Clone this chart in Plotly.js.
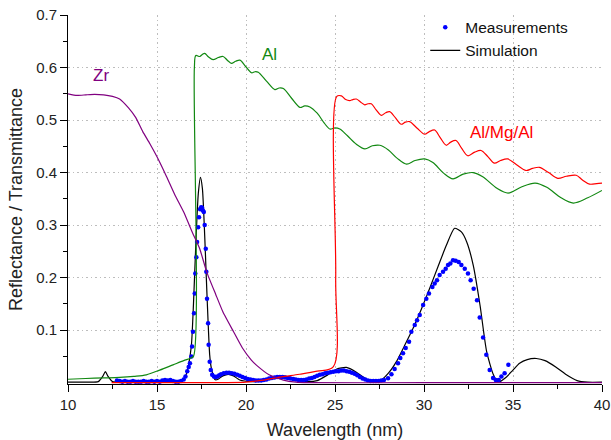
<!DOCTYPE html>
<html>
<head>
<meta charset="utf-8">
<script src="https://cdn.plot.ly/plotly-3.0.1.min.js"></script>
<style>html,body{margin:0;padding:0;background:#fff;}#chart{width:611px;height:440px;}</style>
</head>
<body>
<div id="chart"></div>
<script>
// Zr curve
const zrX = [10,10.5,11,11.5,12,12.5,12.9,13.4,13.8,14.2,14.6,15,15.5,16,16.5,17,17.4,17.8,18.3,18.7,19.3,19.8,20.3,20.6,21.3,22.1,22.8,23.5,30,40];
const zrY = [0.55,0.547,0.548,0.549,0.548,0.545,0.54,0.523,0.505,0.478,0.455,0.43,0.395,0.358,0.325,0.285,0.255,0.21,0.168,0.135,0.097,0.066,0.043,0.033,0.015,0.005,0.001,0,0,0];

// Al curve
const alX = [10,11,12,12.9,13.7,14.4,15.15,15.9,16.5,16.9,17.05,17.1,17.18,17.4,17.55,17.68,17.9,18.15,18.45,18.71,18.95,19.18,19.42,19.66,19.98,20.31,20.5,20.69,21.15,21.62,21.86,22.1,22.55,23.03,23.3,23.59,24.0,24.4,24.71,25.0,25.27,25.7,26.2,26.68,27.1,27.52,28.0,28.5,29.02,29.5,30.04,30.5,31.1,31.63,32.2,32.76,33.3,34.1,34.73,35.5,36.24,36.9,37.7,38.39,39.2,40];
const alY = [0.0065,0.008,0.009,0.01,0.012,0.015,0.024,0.034,0.042,0.047,0.05,0.6,0.623,0.621,0.625,0.627,0.62,0.615,0.619,0.621,0.614,0.608,0.612,0.614,0.602,0.59,0.592,0.591,0.574,0.558,0.561,0.56,0.542,0.524,0.527,0.525,0.513,0.494,0.483,0.485,0.483,0.47,0.454,0.445,0.451,0.452,0.443,0.427,0.416,0.423,0.426,0.419,0.399,0.388,0.397,0.40,0.392,0.37,0.361,0.373,0.38,0.372,0.352,0.342,0.352,0.366];

// Al/Mg/Al curve
const almgX = [12.45,15,20,20.5,21,22,23,24,24.9,25.04,25.1,25.36,25.6,25.83,26.0,26.2,26.45,26.67,26.85,27.04,27.3,27.6,27.85,28.07,28.4,28.72,28.95,29.19,29.6,30.04,30.3,30.6,30.9,31.25,31.5,31.8,32.1,32.46,32.85,33.21,33.6,33.96,34.3,34.7,35.2,35.73,36.1,36.48,37.0,37.51,38.0,38.55,38.9,39.3,39.7,40];
const almgY = [0,0,0.001,0.003,0.005,0.011,0.016,0.022,0.03,0.2,0.545,0.546,0.539,0.537,0.539,0.54,0.534,0.529,0.531,0.531,0.52,0.509,0.514,0.516,0.504,0.492,0.496,0.497,0.485,0.473,0.478,0.481,0.467,0.452,0.458,0.461,0.447,0.432,0.439,0.442,0.43,0.418,0.423,0.426,0.415,0.404,0.408,0.41,0.4,0.389,0.393,0.395,0.386,0.378,0.379,0.38];

// Simulation
const simX = [10,11,11.7,11.95,12.1,12.25,12.5,13,15,16,16.4,16.6,16.75,16.93,17.05,17.2,17.32,17.44,17.55,17.68,17.77,17.87,17.96,18.05,18.15,18.25,18.4,18.7,19.0,19.3,19.65,20.3,21,21.5,21.9,22.4,23,23.5,24,24.6,25.1,25.64,26.2,26.8,27.2,27.52,28,28.45,28.9,29.38,29.85,30.31,30.8,31.25,31.72,32.1,32.4,32.77,33.15,33.52,33.9,34.16,34.6,35.0,35.37,35.8,36.31,36.8,37.4,38,38.6,39.2,40];
const simY = [0.001,0.001,0.002,0.012,0.021,0.012,0.002,0.001,0.001,0.002,0.005,0.012,0.03,0.07,0.15,0.28,0.36,0.391,0.37,0.28,0.2,0.116,0.053,0.028,0.015,0.006,0.006,0.013,0.016,0.013,0.005,0.002,0.004,0.01,0.013,0.011,0.004,0.002,0.004,0.015,0.026,0.029,0.02,0.006,0.001,0.003,0.018,0.04,0.07,0.103,0.14,0.179,0.222,0.261,0.294,0.287,0.268,0.223,0.147,0.059,0.015,0.001,0.01,0.024,0.037,0.044,0.046,0.042,0.03,0.015,0.004,0.001,0.001];

// Measurements
const measX = [12.75,12.9,13.05,13.2,13.35,13.5,13.65,13.8,13.95,14.1,14.25,14.4,14.55,14.7,14.85,15.0,15.15,15.3,15.45,15.6,15.75,15.9,16.05,16.2,16.35,16.5,16.6,16.7,16.78,16.85,16.93,16.97,17.02,17.08,17.12,17.15,17.21,17.25,17.31,17.36,17.42,17.48,17.53,17.58,17.63,17.68,17.74,17.77,17.81,17.87,17.9,17.96,18.02,18.1,18.2,18.3,18.4,18.5,18.6,18.75,18.9,19.05,19.2,19.35,19.5,19.65,19.8,19.95,20.1,20.25,20.4,20.55,20.7,20.85,21.0,21.15,21.3,21.45,21.6,21.75,21.9,22.05,22.2,22.35,22.5,22.65,22.8,22.95,23.1,23.25,23.4,23.55,23.7,23.85,24.0,24.15,24.3,24.45,24.6,24.75,24.9,25.05,25.2,25.35,25.5,25.65,25.8,25.95,26.1,26.25,26.4,26.55,26.7,26.85,27.0,27.15,27.3,27.45,27.6,27.75,27.98,28.17,28.35,28.54,28.67,28.82,28.97,29.16,29.29,29.48,29.61,29.76,29.95,30.13,30.28,30.47,30.6,30.73,30.88,31.07,31.22,31.35,31.48,31.63,31.78,31.95,32.1,32.29,32.47,32.62,32.79,32.98,33.13,33.32,33.5,33.69,33.88,34.03,34.2,34.35,34.53,34.74];
const measY = [0.004,0.003,0.002,0.003,0.002,0.002,0.003,0.002,0.002,0.002,0.003,0.002,0.002,0.003,0.002,0.003,0.002,0.004,0.005,0.004,0.005,0.003,0.002,0.002,0.003,0.006,0.012,0.022,0.03,0.037,0.05,0.069,0.097,0.132,0.17,0.208,0.239,0.268,0.296,0.315,0.33,0.334,0.333,0.328,0.325,0.3,0.255,0.211,0.16,0.113,0.072,0.04,0.024,0.015,0.012,0.011,0.012,0.014,0.016,0.018,0.019,0.019,0.018,0.017,0.015,0.013,0.011,0.009,0.007,0.006,0.005,0.004,0.004,0.004,0.005,0.006,0.008,0.009,0.01,0.011,0.011,0.011,0.01,0.009,0.008,0.007,0.006,0.005,0.005,0.005,0.006,0.008,0.009,0.011,0.013,0.015,0.016,0.018,0.019,0.02,0.021,0.022,0.022,0.023,0.023,0.022,0.021,0.019,0.017,0.014,0.011,0.008,0.006,0.004,0.003,0.003,0.003,0.003,0.004,0.005,0.0086,0.016,0.026,0.037,0.047,0.056,0.066,0.078,0.097,0.11,0.119,0.129,0.148,0.16,0.17,0.182,0.189,0.195,0.205,0.211,0.217,0.224,0.227,0.233,0.232,0.23,0.224,0.217,0.208,0.195,0.179,0.157,0.124,0.086,0.053,0.024,0.009,0.005,0.005,0.012,0.018,0.034];

// Axis ticks
const xTicks = [10,15,20,25,30,35,40];
const yTicks = [0.1,0.2,0.3,0.4,0.5,0.6,0.7];
const yTickText = ['0.1','0.2','0.3','0.4','0.5','0.6','0.7'];

// Curve labels
const labelText = ['Zr','Al','Al/Mg/Al'];
const labelX = [11.87,21.33,34.36];
const labelY = [0.584,0.625,0.476];
const labelColor = ['#800080','#118811','#ff0000'];

const FONT = 'Liberation Sans, Arial, sans-serif';

const traces = [
  {x: simX, y: simY, mode:'lines', name:'Simulation', line:{color:'#000000', width:1.2, shape:'spline', smoothing:0.6}, legendrank:2},
  {x: measX, y: measY, mode:'markers', name:'Measurements', marker:{color:'#0000ff', size:4.5}, legendrank:1},
  {x: alX, y: alY, mode:'lines', name:'Al', showlegend:false, line:{color:'#118811', width:1.2, shape:'spline', smoothing:0.9}},
  {x: almgX, y: almgY, mode:'lines', name:'Al/Mg/Al', showlegend:false, line:{color:'#ff0000', width:1.2, shape:'spline', smoothing:0.9}},
  {x: zrX, y: zrY, mode:'lines', name:'Zr', showlegend:false, line:{color:'#800080', width:1.2, shape:'spline', smoothing:0.5}}
];

const layout = {
  width: 611, height: 440,
  margin: {l:68, r:9, t:15, b:56},
  paper_bgcolor:'#ffffff', plot_bgcolor:'#ffffff',
  font: {family: FONT, color:'#222222', size:15},
  showlegend: true,
  legend: {x:0.669, y:1.012, xanchor:'left', yanchor:'top', bgcolor:'rgba(0,0,0,0)', font:{size:15.5, color:'#111'}, itemwidth:30, tracegroupgap:0},
  xaxis: {
    range:[10,40], tickmode:'array', tickvals:xTicks, ticks:'outside', ticklen:7, tickcolor:'#000', tickwidth:1,
    showline:true, linecolor:'#000', linewidth:1, mirror:false,
    showgrid:true, gridcolor:'#bdbdbd', griddash:'1.5px,3px', gridwidth:1, zeroline:false,
    minor:{dtick:2.5, ticks:'outside', ticklen:4, tickcolor:'#000', showgrid:false},
    tickfont:{size:15, color:'#222'},
    title:{text:'Wavelength (nm)', font:{size:18, color:'#222'}, standoff:12}
  },
  yaxis: {
    range:[-0.0025,0.7], tickmode:'array', tickvals:yTicks, ticktext:yTickText, ticks:'outside', ticklen:7, tickcolor:'#000', tickwidth:1,
    showline:true, linecolor:'#000', linewidth:1, mirror:false,
    showgrid:true, gridcolor:'#bdbdbd', griddash:'1.5px,3px', gridwidth:1, zeroline:false,
    minor:{tickvals:[0.05,0.15,0.25,0.35,0.45,0.55,0.65], ticks:'outside', ticklen:4, tickcolor:'#000', showgrid:false},
    tickfont:{size:15, color:'#222'},
    title:{text:'Reflectance / Transmittance', font:{size:18, color:'#222'}, standoff:8}
  },
  annotations: labelText.map((t,i)=>({x:labelX[i], y:labelY[i], xref:'x', yref:'y', text:t, showarrow:false, font:{size:17, color:labelColor[i], family:FONT}}))
};

Plotly.newPlot('chart', traces, layout, {displayModeBar:false, staticPlot:true});
</script>
</body>
</html>
